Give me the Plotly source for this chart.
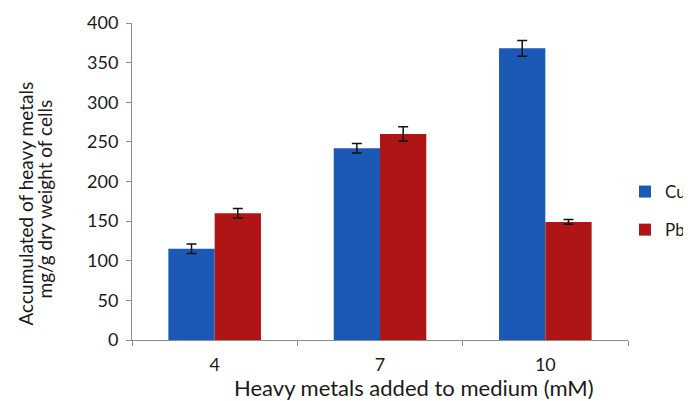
import plotly.graph_objects as go

categories = ["4", "7", "10"]
cu_values = [115, 242, 368]
cu_errors = [6, 6, 10]
pb_values = [160, 260, 149]
pb_errors = [6, 9, 3]
y_ticks = [0, 50, 100, 150, 200, 250, 300, 350, 400]

x_title = "Heavy metals added to medium (mM)"
y_title_lines = ["Accumulated of heavy metals", "mg/g dry weight of cells"]

font = "Lato, Open Sans, sans-serif"
text_color = "#1a1a1a"

fig = go.Figure()
fig.add_trace(go.Bar(
    name="Cu", x=categories, y=cu_values,
    marker=dict(color="#1C58B5", line=dict(width=0)),
    error_y=dict(type="data", array=cu_errors, color="#111", thickness=1.5, width=5),
    legendgroup="cu",
))
fig.add_trace(go.Bar(
    name="Pb", x=categories, y=pb_values,
    marker=dict(color="#AF1515", line=dict(width=0)),
    error_y=dict(type="data", array=pb_errors, color="#111", thickness=1.5, width=5),
    legendgroup="pb",
))

annotations = [
    dict(text=x_title, xref="paper", yref="paper", x=0.569, y=0,
         xanchor="center", yanchor="middle", yshift=-47, showarrow=False,
         font=dict(size=22, color=text_color, family=font)),
    dict(text=y_title_lines[0], xref="paper", yref="paper", x=0, y=0.5,
         xanchor="center", yanchor="middle", xshift=-107, yshift=-22,
         textangle=-90, showarrow=False,
         font=dict(size=19, color=text_color, family=font)),
    dict(text=y_title_lines[1], xref="paper", yref="paper", x=0, y=0.5,
         xanchor="center", yanchor="middle", xshift=-88, yshift=-18,
         textangle=-90, showarrow=False,
         font=dict(size=19, color=text_color, family=font)),
]

fig.update_layout(
    width=683, height=393,
    margin=dict(l=124, r=63, t=15, b=61, autoexpand=False),
    paper_bgcolor="white", plot_bgcolor="white",
    barmode="group", bargap=0.44, bargroupgap=0,
    font=dict(family=font, size=18, color=text_color),
    showlegend=True,
    legend=dict(xref="container", yref="container", x=1.0, y=0.4835,
                xanchor="right", yanchor="middle",
                font=dict(size=17, color=text_color), tracegroupgap=13,
                itemwidth=30, bgcolor="rgba(0,0,0,0)", borderwidth=0),
    annotations=annotations,
    xaxis=dict(
        automargin=False,
        showline=True, linecolor="#8c8c8c", linewidth=1,
        ticks="outside", ticklen=5, tickcolor="#8c8c8c",
        tickson="boundaries", ticklabelstandoff=8,
        tickfont=dict(size=18),
    ),
    yaxis=dict(
        automargin=False,
        range=[0, 400], tickvals=y_ticks,
        showline=True, linecolor="#8c8c8c", linewidth=1,
        ticks="outside", ticklen=5, tickcolor="#8c8c8c",
        showgrid=False, zeroline=False, ticklabelstandoff=4,
        tickfont=dict(size=18),
    ),
)

fig.write_html("out.html")
